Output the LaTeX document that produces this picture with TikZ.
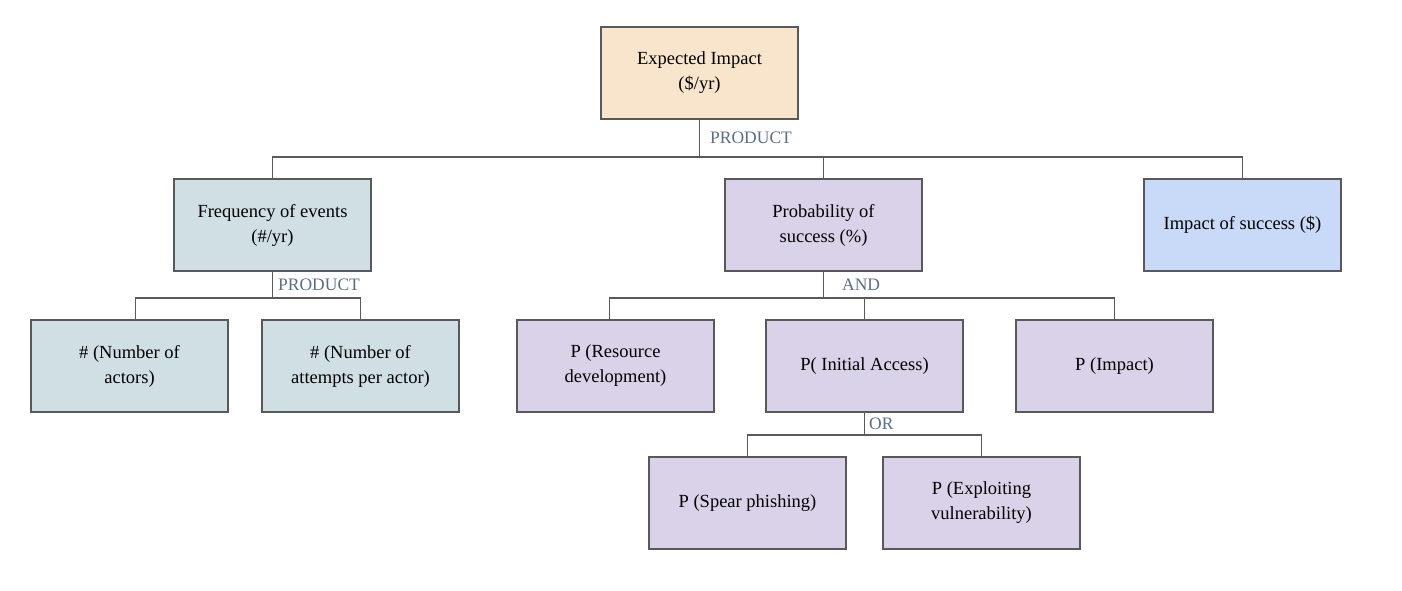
\documentclass[tikz,border=0pt]{standalone}
\usepackage{tikz}
\usepackage{fontspec}
\setmainfont{Liberation Serif}
\definecolor{peach}{HTML}{F9E5CC}
\definecolor{slate}{HTML}{D0DFE3}
\definecolor{lilac}{HTML}{D9D2E9}
\definecolor{sky}{HTML}{C9DAF8}
\definecolor{edge}{HTML}{595959}
\definecolor{gatecol}{HTML}{5A6E87}
\tikzset{
  box/.style={draw=edge, line width=1.6pt, minimum width=197pt, minimum height=92pt,
    align=center, font=\fontsize{18.5}{25}\selectfont},
  wire/.style={draw=edge, line width=1.4pt},
  gate/.style={text=gatecol, font=\fontsize{17.5}{17.5}\selectfont, anchor=west, inner sep=0pt}
}

\begin{document}
\begin{tikzpicture}[x=1pt,y=-1pt]
\useasboundingbox (0,0) rectangle (1402,590);

% Top level
\node[box, fill=peach] (root) at (699.5,73) {Expected Impact\\(\$/yr)};

% Second level
\node[box, fill=slate] (freq) at (272.5,225) {Frequency of events\\(\#/yr)};
\node[box, fill=lilac] (prob) at (823.5,225) {Probability of\\success (\%)};
\node[box, fill=sky] (impact) at (1242.5,225) {Impact of success (\$)};

\draw[wire] (root.south) -- ++(0,37) coordinate (rootjoin) -| (freq.north);
\draw[wire] (rootjoin) -| (prob.north);
\draw[wire] (rootjoin) -| (impact.north);
\node[gate] (rootgate) at (710,138) {PRODUCT};

% Frequency branch
\node[box, fill=slate] (actors) at (129.5,366) {\# (Number of\\actors)};
\node[box, fill=slate] (attempts) at (360.5,366) {\# (Number of\\attempts per actor)};

\draw[wire] (freq.south) -- ++(0,26) coordinate (freqjoin) -| ([xshift=6pt]actors.north);
\draw[wire] (freqjoin) -| (attempts.north);
\node[gate] (freqgate) at (278,285) {PRODUCT};

% Probability branch
\node[box, fill=lilac] (resdev) at (615.5,366) {P (Resource\\development)};
\node[box, fill=lilac] (access) at (864.5,366) {P( Initial Access)};
\node[box, fill=lilac] (pimpact) at (1114.5,366) {P (Impact)};

\draw[wire] (prob.south) -- ++(0,26) coordinate (probjoin) -| ([xshift=-6pt]resdev.north);
\draw[wire] (probjoin) -| (access.north);
\draw[wire] (probjoin) -| (pimpact.north);
\node[gate] (probgate) at (842,285) {AND};

% Initial access branch
\node[box, fill=lilac] (spear) at (747.5,503) {P (Spear phishing)};
\node[box, fill=lilac] (exploit) at (981.5,503) {P (Exploiting\\vulnerability)};

\draw[wire] (access.south) -- ++(0,22) coordinate (accjoin) -| (spear.north);
\draw[wire] (accjoin) -| (exploit.north);
\node[gate] (accgate) at (869,424) {OR};
\end{tikzpicture}
\end{document}
